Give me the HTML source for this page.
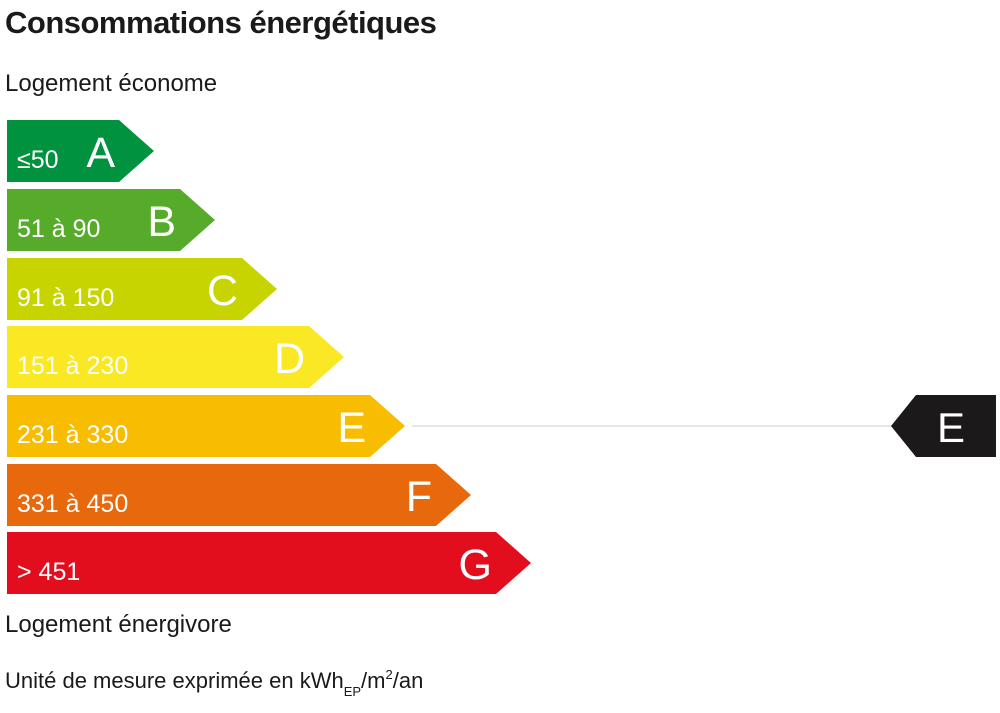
<!DOCTYPE html>
<html><head><meta charset="utf-8"><style>
body{margin:0;background:#fff;width:1000px;height:708px;overflow:hidden;font-family:"Liberation Sans",sans-serif;}
</style></head><body>
<svg width="1000" height="708" font-family="Liberation Sans, sans-serif">
<text x="5" y="33" font-size="31" font-weight="bold" fill="#1a1a1a" letter-spacing="-0.5">Consommations énergétiques</text>
<text x="5" y="91" font-size="24" fill="#1a1a1a">Logement économe</text>
<g id="bars"></g>
<line x1="412" y1="426" x2="892" y2="426" stroke="#e6e6e6" stroke-width="2"/>
<polygon points="891,426 916,395 996,395 996,457 916,457" fill="#1b191a"/>
<text x="951" y="442" font-size="42" fill="#fff" text-anchor="middle">E</text>
<text x="5" y="632" font-size="24" fill="#1a1a1a">Logement énergivore</text>
<text x="5" y="688" font-size="22" fill="#1a1a1a">Unité de mesure exprimée en kWh<tspan font-size="13" dy="8">EP</tspan><tspan dy="-8">/m</tspan><tspan font-size="13" dy="-9">2</tspan><tspan dy="9">/an</tspan></text>
</svg>
<script>
const letters=["A","B","C","D","E","F","G"];
const ranges=["≤50","51 à 90","91 à 150","151 à 230","231 à 330","331 à 450","> 451"];
const tips=[154,215,277,344,405,471,531];
const colors=["#00923f","#57ab2b","#c8d400","#f9e823","#f8bc00","#e8690c","#e20e1d"];
const g=document.getElementById('bars');
const NS="http://www.w3.org/2000/svg";
const tops=[120,189,258,326,395,464,532];
letters.forEach((L,i)=>{
  const y=tops[i],h=62,tip=tips[i],be=tip-35;
  const p=document.createElementNS(NS,'polygon');
  p.setAttribute('points',`7,${y} ${be},${y} ${tip},${y+h/2} ${be},${y+h} 7,${y+h}`);
  p.setAttribute('fill',colors[i]);
  
  
  g.appendChild(p);
  const t=document.createElementNS(NS,'text');
  t.setAttribute('x',17);t.setAttribute('y',y+48);t.setAttribute('font-size','25');t.setAttribute('fill','#fff');
  t.textContent=ranges[i];
  
  
  g.appendChild(t);
  const l=document.createElementNS(NS,'text');
  l.setAttribute('x',be-4);l.setAttribute('y',y+47);l.setAttribute('font-size','43');l.setAttribute('fill','#fff');l.setAttribute('text-anchor','end');
  l.textContent=L;
  
  
  g.appendChild(l);
});
</script>
</body></html>
